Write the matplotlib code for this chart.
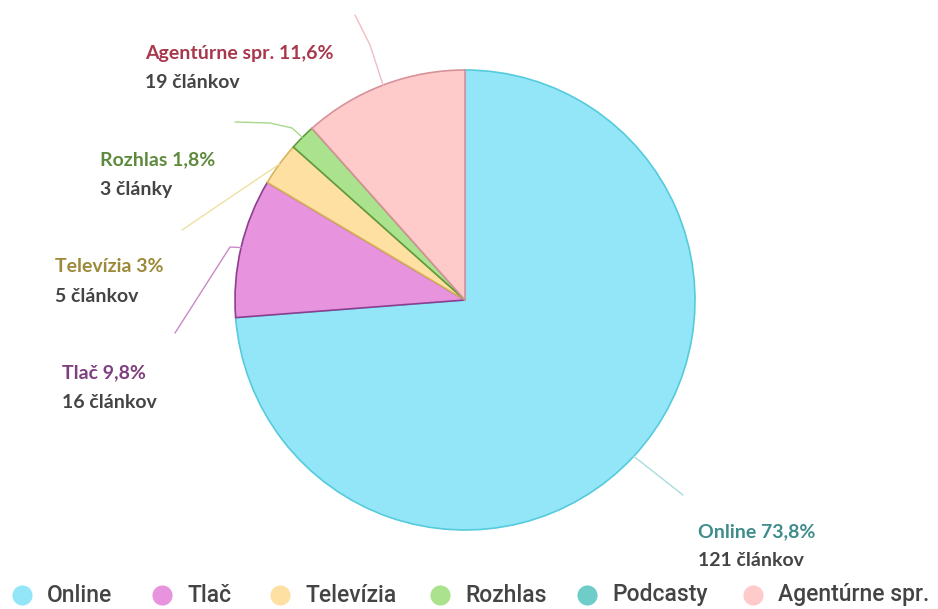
import numpy as np
import matplotlib
matplotlib.use("Agg")
import matplotlib.pyplot as plt

# Media types and article counts
categories = ["Online", "Tlač", "Televízia", "Rozhlas", "Podcasty", "Agentúrne spr."]
counts = [121, 16, 5, 3, 0, 19]
shares = [73.8, 9.8, 3.0, 1.8, 0.0, 11.6]
count_labels = ["121 článkov", "16 článkov", "5 článkov", "3 články", "", "19 článkov"]

fill_colors = ["#93e6f7", "#e893dd", "#fde0a2", "#abe28d", "#6fcdc9", "#ffcaca"]
edge_colors = ["#55cbdc", "#8c3f90", "#d8b45a", "#5e9a3e", "#3f9e9a", "#d8929a"]
title_colors = ["#3f8c8c", "#7e3f7e", "#9c8a3a", "#5e8a3e", "#3f8c8c", "#a8384c"]
line_colors = ["#a9dcdf", "#c78ac6", "#ede0a0", "#a8d88e", "#6fcdc9", "#f2bcc4"]

W, H = 938, 609
CX, CY, R = 465, 300, 230


def fy(py):
    """Pixel row (top-down) to axes y."""
    return H - py


fig = plt.figure(figsize=(W / 100, H / 100), dpi=100)
ax = fig.add_axes([0, 0, 1, 1])

wedges, _ = ax.pie(counts, center=(CX, fy(CY)), radius=R, startangle=90,
                   counterclock=False, colors=fill_colors,
                   wedgeprops=dict(linewidth=1.2))
for w, ec, c in zip(wedges, edge_colors, counts):
    w.set_edgecolor(ec)
    if c == 0:
        w.set_linewidth(0)

# pie() resets the limits, so set the pixel frame afterwards
ax.set_xlim(0, W)
ax.set_ylim(0, H)
ax.set_aspect("equal")
ax.axis("off")

# label anchor (left edge of text, pixel y of first line) and connector path
labels = {
    0: dict(pos=(698, 532), path=[(683, 495)]),
    1: dict(pos=(62, 373), path=[(230, 247), (175, 333)]),
    2: dict(pos=(55, 267), path=[(182, 230)]),
    3: dict(pos=(100, 160), path=[(292, 128), (270, 123), (235, 122)]),
    5: dict(pos=(145, 54), path=[(370, 45), (355, 15)]),
}

label_font = dict(fontsize=14, fontweight="bold", family=["Lato", "DejaVu Sans"])
for i, spec in labels.items():
    w = wedges[i]
    mid = np.deg2rad((w.theta1 + w.theta2) / 2)
    sx = CX + R * np.cos(mid)
    sy = CY - R * np.sin(mid)
    pts = [(sx, sy)] + spec["path"]
    ax.plot([p[0] for p in pts], [fy(p[1]) for p in pts],
            color=line_colors[i], lw=1.0, solid_capstyle="round")
    x, y = spec["pos"]
    pct = f"{shares[i]:.1f}".replace(".", ",").replace(",0", "")
    ax.text(x, fy(y), f"{categories[i]} {pct}%", ha="left", va="center",
            color=title_colors[i], **label_font)
    ax.text(x, fy(y + 29), count_labels[i], ha="left", va="center",
            color="#444444", **label_font)

# legend row along the bottom
legend_x = [22, 162, 280, 440, 587, 753]
for lx, name, c in zip(legend_x, categories, fill_colors):
    ax.scatter([lx], [fy(595)], s=210, color=c, linewidths=0, clip_on=False)
    ax.text(lx + 25, fy(595), name, ha="left", va="center", fontsize=16.5,
            fontweight="medium", family=["Roboto", "DejaVu Sans"], color="#444444")

fig.savefig("out.png", dpi=100)
